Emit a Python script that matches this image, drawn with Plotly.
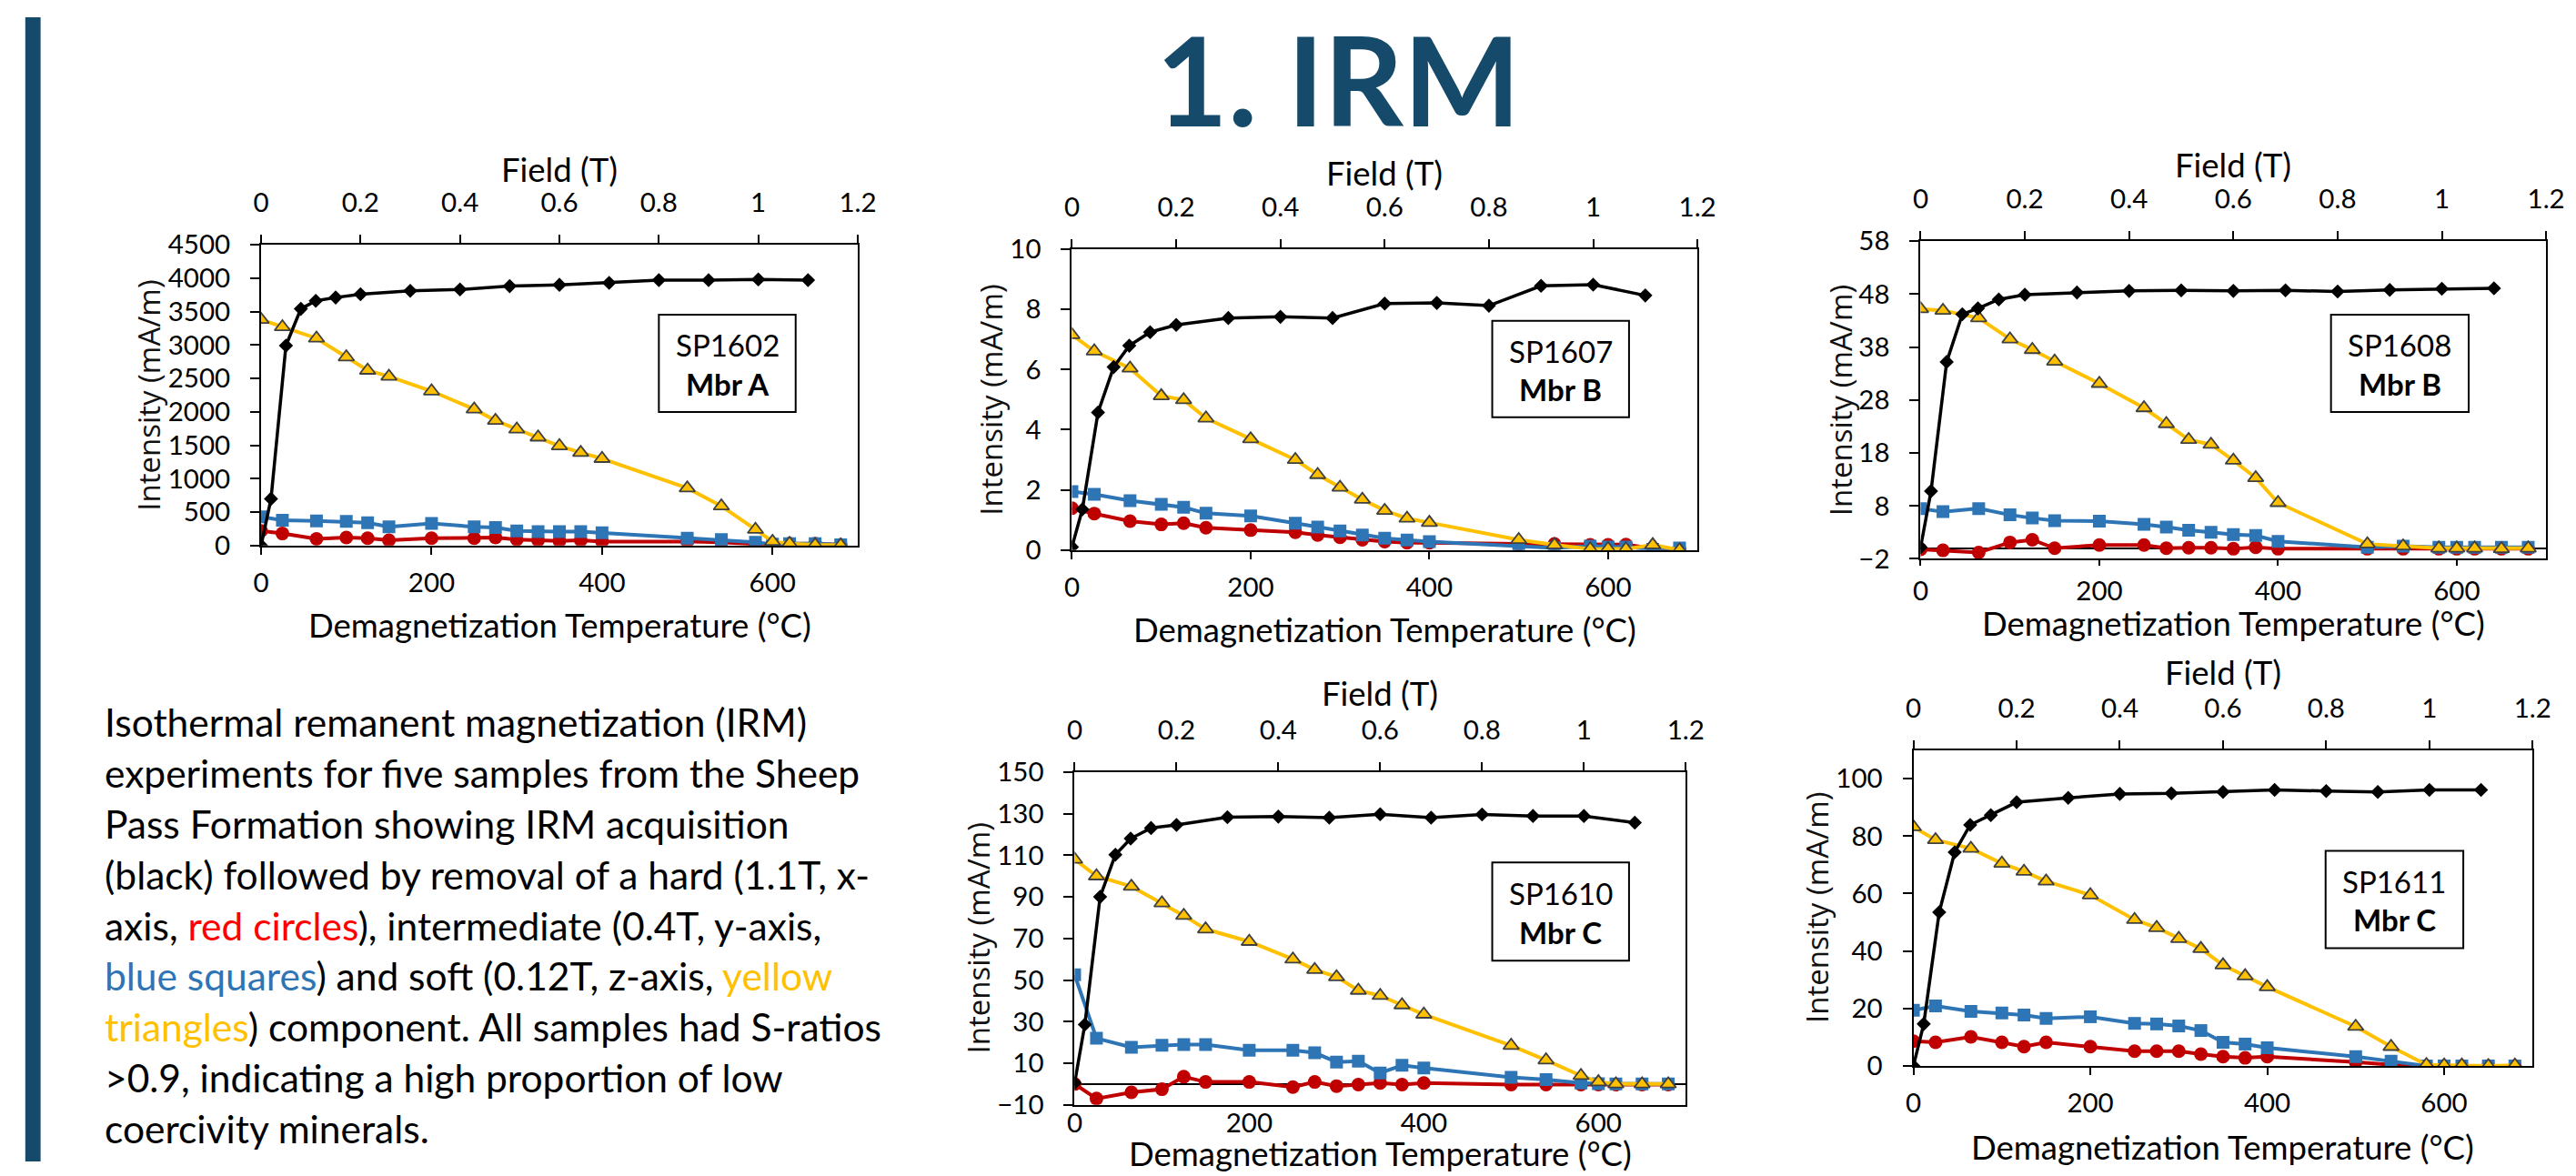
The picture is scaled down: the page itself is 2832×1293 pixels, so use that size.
import plotly.graph_objects as go

W, H = 2832, 1293

# ---------------- data ----------------
temps = [0, 25, 65, 100, 125, 150, 200, 250, 275, 300, 325, 350, 375, 400, 500, 540, 580, 600, 620, 650, 680]
fields = [0, 0.02, 0.05, 0.08, 0.11, 0.15, 0.2, 0.3, 0.4, 0.5, 0.6, 0.7, 0.8, 0.9, 1.0, 1.1]

sample_names = ["SP1602", "SP1607", "SP1608", "SP1610", "SP1611"]
member_names = ["Mbr A", "Mbr B", "Mbr B", "Mbr C", "Mbr C"]

irm_sp1602 = [0, 700, 2990, 3540, 3660, 3710, 3760, 3810, 3830, 3880, 3900, 3930, 3970, 3970, 3980, 3970]
hard_sp1602 = [220, 180, 100, 120, 110, 80, 110, 110, 120, 90, 80, 70, 80, 60, 60, 50, 20, 20, 30, 30, 10]
inter_sp1602 = [430, 380, 370, 360, 340, 280, 330, 280, 270, 220, 210, 210, 210, 190, 110, 90, 50, 20, 30, 30, 10]
soft_sp1602 = [3380, 3270, 3100, 2820, 2620, 2530, 2310, 2040, 1870, 1740, 1620, 1490, 1390, 1300, 860, 590, 240, 60, 30, 10, 5]

irm_sp1607 = [0.1, 1.35, 4.57, 6.08, 6.79, 7.24, 7.48, 7.71, 7.75, 7.71, 8.19, 8.21, 8.12, 8.78, 8.82, 8.46]
hard_sp1607 = [1.39, 1.21, 0.96, 0.85, 0.89, 0.74, 0.66, 0.59, 0.5, 0.42, 0.34, 0.28, 0.24, 0.24, 0.2, 0.2, 0.17, 0.17, 0.18, 0.05, 0.02]
inter_sp1607 = [1.94, 1.85, 1.64, 1.52, 1.42, 1.22, 1.13, 0.89, 0.76, 0.63, 0.5, 0.39, 0.33, 0.28, 0.13, 0.07, 0.13, 0.1, 0.1, 0.02, 0.07]
soft_sp1607 = [7.15, 6.61, 6.04, 5.12, 4.99, 4.38, 3.69, 3.0, 2.5, 2.08, 1.68, 1.31, 1.05, 0.91, 0.34, 0.17, 0.03, 0.04, 0.03, 0.17, 0.0]

irm_sp1608 = [0.2, 10.8, 35.2, 44.2, 45.3, 47.0, 47.9, 48.3, 48.6, 48.7, 48.6, 48.7, 48.5, 48.8, 49.0, 49.1]
hard_sp1608 = [-0.2, -0.4, -0.8, 1.1, 1.6, 0.0, 0.6, 0.6, 0.0, 0.1, 0.1, -0.1, 0.2, -0.1, -0.1, -0.1, -0.1, -0.1, -0.1, -0.1, -0.1]
inter_sp1608 = [7.5, 6.9, 7.5, 6.3, 5.7, 5.2, 5.1, 4.5, 4.0, 3.4, 3.0, 2.6, 2.4, 1.3, 0.2, 0.4, 0.2, 0.2, 0.2, 0.2, 0.2]
soft_sp1608 = [45.2, 44.9, 43.5, 39.5, 37.5, 35.3, 31.1, 26.5, 23.5, 20.5, 19.6, 16.6, 13.3, 8.6, 0.8, 0.4, 0.0, 0.0, 0.0, -0.1, 0.0]

irm_sp1610 = [0.5, 28.6, 90.0, 110.3, 118.0, 123.1, 124.6, 128.3, 128.6, 128.1, 129.7, 128.1, 129.6, 128.9, 128.9, 125.7]
hard_sp1610 = [0, -7, -4, -2.5, 3.5, 1, 1, -1.5, 1, -1, -0.3, 0.5, -0.3, 0.5, -0.3, -0.3, -0.3, -0.3, -0.3, -0.3, -0.3]
inter_sp1610 = [52.5, 22, 17.7, 18.6, 19, 19, 16.2, 16.2, 15, 10.6, 11, 5.3, 9, 7.7, 3.2, 2.1, 0.5, 0.2, 0, 0, 0]
soft_sp1610 = [108, 100, 95, 87, 81, 74.5, 68.5, 60, 55, 51.5, 45, 42.5, 38, 33.5, 18.5, 11.5, 4, 1, 0, 0, 0]

irm_sp1611 = [0, 14.6, 53.5, 74.4, 83.9, 87.3, 91.8, 93.3, 94.7, 94.9, 95.4, 96.1, 95.7, 95.4, 96.1, 96.1]
hard_sp1611 = [8.6, 8.2, 10.1, 8.2, 6.7, 8.2, 6.7, 5.1, 5.1, 5.1, 4.1, 3.2, 2.8, 3.2, 1.3, 0.4, 0, 0, 0, 0, 0]
inter_sp1611 = [19.4, 20.9, 19.0, 18.4, 17.7, 16.5, 17.1, 14.8, 14.6, 13.9, 12.3, 8.2, 7.6, 6.3, 3.2, 1.6, 0, 0, 0, 0, 0]
soft_sp1611 = [83.2, 78.7, 75.7, 70.5, 67.7, 64.3, 59.5, 50.9, 48.1, 44.3, 40.8, 35.1, 31.3, 27.5, 13.7, 6.7, 0.4, 0.2, 0.2, 0.0, 0.2]

irm_all = [irm_sp1602, irm_sp1607, irm_sp1608, irm_sp1610, irm_sp1611]
hard_all = [hard_sp1602, hard_sp1607, hard_sp1608, hard_sp1610, hard_sp1611]
inter_all = [inter_sp1602, inter_sp1607, inter_sp1608, inter_sp1610, inter_sp1611]
soft_all = [soft_sp1602, soft_sp1607, soft_sp1608, soft_sp1610, soft_sp1611]

y_ranges = [[0, 4500], [0, 10], [-2, 58], [-10, 150], [0, 110]]
y_tick0 = [0, 0, -2, -10, 0]
y_dtick = [500, 2, 10, 20, 20]
temp_range = [0, 700]
field_range = [0, 1.2]

title_text = "1. IRM"
field_title = "Field (T)"
temp_title = "Demagnetization Temperature (°C)"
int_title = "Intensity (mA/m)"

RED = "#C00000"
BLUE = "#2E75B6"
YEL = "#FFC000"
NAVY = "#154A6A"

paragraph = [
    "Isothermal remanent magnetization (IRM)",
    "experiments for five samples from the Sheep",
    "Pass Formation showing IRM acquisition",
    "(black) followed by removal of a hard (1.1T, x-",
    "axis, <span style='color:#FF0000'>red circles</span>), intermediate (0.4T, y-axis,",
    "<span style='color:#2E75B6'>blue squares</span>) and soft (0.12T, z-axis, <span style='color:#FFC000'>yellow</span>",
    "<span style='color:#FFC000'>triangles</span>) component. All samples had S-ratios",
    ">0.9, indicating a high proportion of low",
    "coercivity minerals.",
]

# ---------------- layout geometry (pixels) ----------------
# plot areas: left, right, top, bottom
areas = [
    (281, 944, 257, 597),
    (1182, 1877, 262, 602),
    (2125, 2820, 253, 612),
    (1185, 1864, 853, 1229),
    (2117, 2805, 828, 1185),
]
field_title_y = [172, 176, 167, 764, 740]
temp_title_y = [687, 692, 685, 1284, 1277]
ytitle_x = [156, 1092, 2036, 1078, 2010]
bottom_standoff = [6, 6, 2, -7, 6]
bottom_ticklen = [8, 8, 6, 0, 8]
boxes = [
    (723, 875, 336, 446),
    (1649, 1801, 343, 452),
    (2581, 2734, 336, 446),
    (1649, 1801, 955, 1066),
    (2575, 2728, 942, 1052),
]

def px(x):
    return x / W

def py(y):
    return 1 - y / H

FONT = "Lato"
TICKFONT = dict(family=FONT, size=29.5, color="black")
AXTITLE = dict(family=FONT, size=36.5, color="black")

fig = go.Figure()
layout = dict(
    width=W, height=H, autosize=False,
    margin=dict(l=0, r=0, t=0, b=0),
    paper_bgcolor="white", plot_bgcolor="white",
    showlegend=False,
)
annotations = []
shapes = []

for i in range(5):
    n = i + 1
    xb = "x" if n == 1 else f"x{n}"
    xt = f"x{n + 5}"
    yy = "y" if n == 1 else f"y{n}"
    l, r, t, b = areas[i]

    fig.add_trace(go.Scatter(
        x=temps, y=hard_all[i], xaxis=xb, yaxis=yy, mode="lines+markers",
        line=dict(color=RED, width=4),
        marker=dict(symbol="circle", size=15, color=RED),
        hoverinfo="skip"))
    fig.add_trace(go.Scatter(
        x=temps, y=inter_all[i], xaxis=xb, yaxis=yy, mode="lines+markers",
        line=dict(color=BLUE, width=4),
        marker=dict(symbol="square", size=14, color=BLUE),
        hoverinfo="skip"))
    fig.add_trace(go.Scatter(
        x=temps, y=soft_all[i], xaxis=xb, yaxis=yy, mode="lines+markers",
        line=dict(color=YEL, width=4),
        marker=dict(symbol="triangle-up", size=15, color=YEL,
                    line=dict(color="#404040", width=1.8)),
        hoverinfo="skip"))
    fig.add_trace(go.Scatter(
        x=fields, y=irm_all[i], xaxis=xt, yaxis=yy, mode="lines+markers",
        line=dict(color="black", width=3.5),
        marker=dict(symbol="diamond", size=12, color="black"),
        hoverinfo="skip"))

    key_b = "xaxis" if n == 1 else f"xaxis{n}"
    key_t = f"xaxis{n + 5}"
    key_y = "yaxis" if n == 1 else f"yaxis{n}"

    layout[key_b] = dict(
        domain=[px(l), px(r)], anchor=yy, range=temp_range,
        tick0=0, dtick=200, showgrid=False, zeroline=False,
        showline=True, linecolor="black", linewidth=2, mirror=True,
        ticks="outside" if bottom_ticklen[i] > 0 else "",
        ticklen=max(bottom_ticklen[i], 1), tickwidth=1.5, tickcolor="black",
        tickfont=TICKFONT, ticklabelstandoff=bottom_standoff[i],
    )
    layout[key_t] = dict(
        overlaying=xb, anchor=yy, side="top", range=field_range,
        tick0=0, dtick=0.2, showgrid=False, zeroline=False,
        showline=True, linecolor="black", linewidth=2,
        ticks="outside", ticklen=9, tickwidth=1.5, tickcolor="black",
        tickfont=TICKFONT, ticklabelstandoff=13,
    )
    layout[key_y] = dict(
        domain=[py(b), py(t)], anchor=xb, range=y_ranges[i],
        tick0=y_tick0[i], dtick=y_dtick[i], showgrid=False,
        zeroline=True, zerolinecolor="black", zerolinewidth=2,
        showline=True, linecolor="black", linewidth=2, mirror=True,
        ticks="outside", ticklen=10, tickwidth=1.5, tickcolor="black",
        tickfont=TICKFONT, ticklabelstandoff=16,
    )

    cx = (l + r) / 2
    annotations.append(dict(
        text=field_title, x=px(cx), y=py(field_title_y[i]), xref="paper", yref="paper",
        xanchor="center", yanchor="middle", showarrow=False, font=AXTITLE))
    annotations.append(dict(
        text=temp_title, x=px(cx), y=py(temp_title_y[i]), xref="paper", yref="paper",
        xanchor="center", yanchor="middle", showarrow=False, font=AXTITLE))
    annotations.append(dict(
        text=int_title, x=px(ytitle_x[i]), y=py((t + b) / 2), xref="paper", yref="paper",
        xanchor="center", yanchor="middle", showarrow=False, textangle=-90,
        font=dict(family="Open Sans", size=33, color="#111111")))

    bl, br, bt, bb = boxes[i]
    shapes.append(dict(type="rect", xref="paper", yref="paper",
                       x0=px(bl), x1=px(br), y0=py(bb), y1=py(bt),
                       line=dict(color="black", width=2), fillcolor="white", layer="above"))
    bh = bb - bt
    annotations.append(dict(
        text=sample_names[i], x=px((bl + br) / 2), y=py(bt + 0.31 * bh), xref="paper", yref="paper",
        xanchor="center", yanchor="middle", showarrow=False,
        font=dict(family=FONT, size=33, color="black")))
    annotations.append(dict(
        text="<b>" + member_names[i] + "</b>", x=px((bl + br) / 2), y=py(bt + 0.71 * bh),
        xref="paper", yref="paper", xanchor="center", yanchor="middle", showarrow=False,
        font=dict(family=FONT, size=33, color="black")))

# title
annotations.append(dict(
    text="<b>" + title_text + "</b>", x=px(1478), y=py(69), xref="paper", yref="paper",
    xanchor="center", yanchor="middle", showarrow=False,
    font=dict(family=FONT, size=136, color=NAVY)))

# paragraph
for k, line in enumerate(paragraph):
    annotations.append(dict(
        text=line, x=px(105), y=py(796 + 57.45 * k), xref="paper", yref="paper",
        xanchor="left", yanchor="middle", showarrow=False,
        font=dict(family=FONT, size=42.5, color="black")))

# left accent bar
shapes.append(dict(type="rect", xref="paper", yref="paper",
                   x0=px(19), x1=px(36), y0=0, y1=1,
                   line=dict(width=0), fillcolor=NAVY, layer="below"))

layout["annotations"] = annotations
layout["shapes"] = shapes
fig.update_layout(**layout)

fig.write_html("out.html", config={"displayModeBar": False},
               post_script="document.body.style.margin='0';document.body.style.overflow='hidden';")
